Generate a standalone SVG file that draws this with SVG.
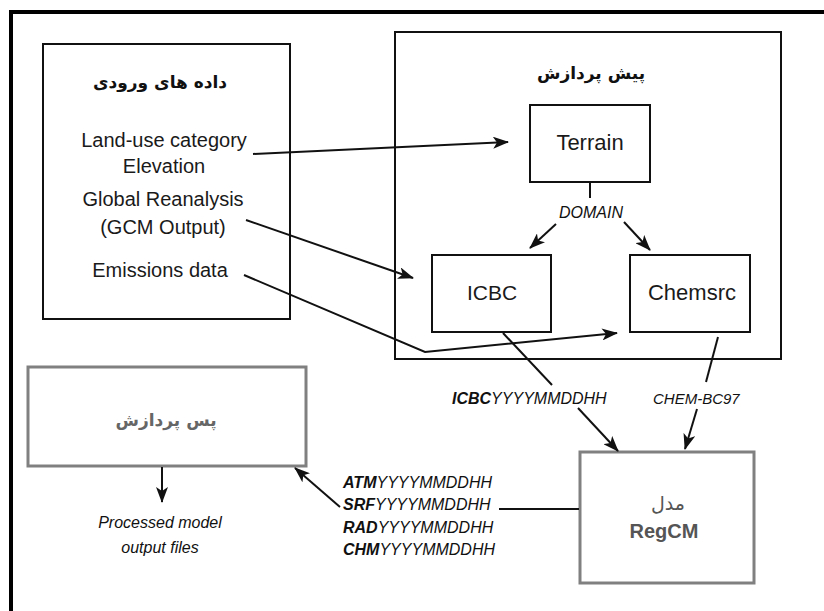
<svg xmlns="http://www.w3.org/2000/svg" width="824" height="611" viewBox="0 0 824 611">
<style>
.box{fill:none;stroke:#111;stroke-width:2}
.gbox{fill:#fff;stroke:#808080;stroke-width:3}
.en{font-family:"Liberation Sans",Arial,sans-serif;fill:#1a1a1a}
.fa{font-family:"DejaVu Sans","Noto Sans",sans-serif;font-weight:bold;fill:#111}
.it{font-family:"Liberation Sans",Arial,sans-serif;font-style:italic;font-size:16px;fill:#111}
.b{font-weight:bold}
.ln{fill:none;stroke:#111;stroke-width:2}
.ar{fill:none;stroke:#111;stroke-width:2;marker-end:url(#ah)}
</style>
<defs>
<marker id="ah" viewBox="0 0 16 12" refX="15" refY="6" markerWidth="16" markerHeight="12" markerUnits="userSpaceOnUse" orient="auto">
<path d="M0,0 L16,6 L0,12 L4,6 Z" fill="#111"/>
</marker>
</defs>
<rect width="824" height="611" fill="#fff"/>
<path d="M11,611 V12 H824" fill="none" stroke="#000" stroke-width="4"/>

<g id="input">
<rect class="box" x="43" y="44" width="247" height="275"/>
<text class="fa" x="160" y="88" text-anchor="middle" font-size="17" direction="rtl">داده های ورودی</text>
<text class="en" x="164" y="147" text-anchor="middle" font-size="20">Land-use category</text>
<text class="en" x="164" y="173" text-anchor="middle" font-size="20">Elevation</text>
<text class="en" x="163" y="206" text-anchor="middle" font-size="20">Global Reanalysis</text>
<text class="en" x="163" y="234" text-anchor="middle" font-size="20">(GCM Output)</text>
<text class="en" x="160" y="277" text-anchor="middle" font-size="20">Emissions data</text>
</g>

<g id="preprocessing">
<rect class="box" x="395" y="32" width="386" height="327"/>
<text class="fa" x="591" y="79" text-anchor="middle" font-size="17" direction="rtl">پیش پردازش</text>
</g>

<g id="terrain">
<rect class="box" x="530" y="105" width="120" height="77"/>
<text class="en" x="590" y="150" text-anchor="middle" font-size="22">Terrain</text>
</g>

<g id="icbc">
<rect class="box" x="432" y="255" width="119" height="77"/>
<text class="en" x="492" y="300" text-anchor="middle" font-size="21">ICBC</text>
</g>

<g id="chemsrc">
<rect class="box" x="630" y="255" width="120" height="77"/>
<text class="en" x="692" y="300" text-anchor="middle" font-size="22">Chemsrc</text>
</g>

<g id="postprocessing">
<rect class="gbox" x="28" y="367" width="278" height="99"/>
<text class="fa" x="166" y="426" text-anchor="middle" font-size="17" fill="#666" style="fill:#666" direction="rtl">پس پردازش</text>
</g>

<g id="regcm">
<rect class="gbox" x="580" y="452" width="174" height="131"/>
<text x="668" y="510" text-anchor="middle" font-size="19" font-family="DejaVu Sans, sans-serif" fill="#555" direction="rtl">مدل</text>
<text class="en b" x="664" y="538" text-anchor="middle" font-size="20" style="fill:#555">RegCM</text>
</g>

<g id="labels">
<text class="it" x="591" y="218" text-anchor="middle">DOMAIN</text>
<text class="it" x="452" y="404"><tspan class="b">ICBC</tspan>YYYYMMDDHH</text>
<text class="it" x="653" y="404" font-size="15" style="font-size:15px">CHEM-BC97</text>
<text class="it" x="343" y="488"><tspan class="b">ATM</tspan>YYYYMMDDHH</text>
<text class="it" x="343" y="510"><tspan class="b">SRF</tspan>YYYYMMDDHH</text>
<text class="it" x="343" y="533"><tspan class="b">RAD</tspan>YYYYMMDDHH</text>
<text class="it" x="343" y="555"><tspan class="b">CHM</tspan>YYYYMMDDHH</text>
<text class="it" x="160" y="528" text-anchor="middle">Processed model</text>
<text class="it" x="160" y="553" text-anchor="middle">output files</text>
</g>

<g id="connectors">
<path class="ar" d="M253,154 L508,142"/>
<path class="ar" d="M246,220 L413,278"/>
<path class="ar" d="M244,275 L425,352 L617,333"/>
<path class="ln" d="M590,182 V198"/>
<path class="ar" d="M556,224 L530,248"/>
<path class="ar" d="M624,222 L650,250"/>
<path class="ln" d="M503,333 L552,385"/>
<path class="ar" d="M578,408 L618,451"/>
<path class="ln" d="M718,337 L706,382"/>
<path class="ar" d="M697,409 L685,449"/>
<path class="ln" d="M499,509 H579"/>
<path class="ar" d="M340,507 L295,468"/>
<path class="ar" d="M162,467 V502"/>
</g>
</svg>
